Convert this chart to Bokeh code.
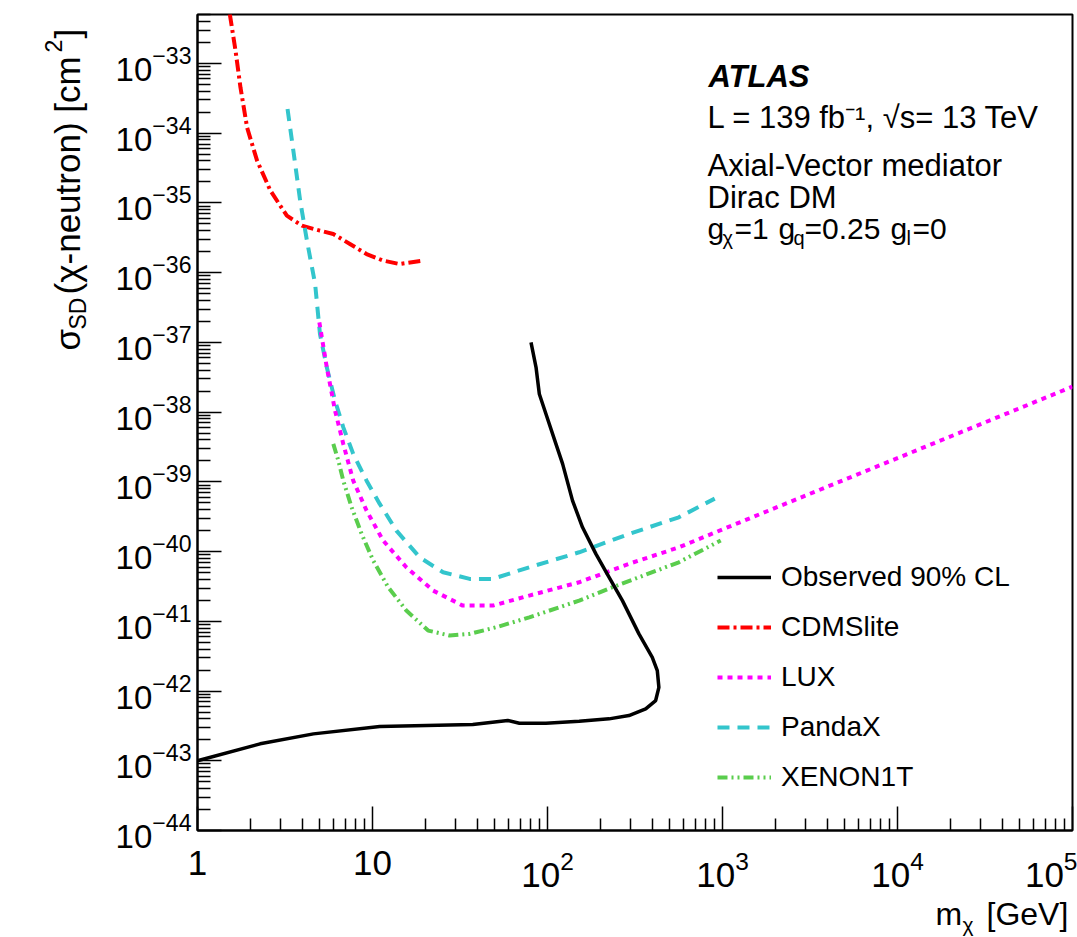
import math
from bokeh.plotting import figure
from bokeh.models import (Label, Legend, LegendItem, FixedTicker,
                          LogTickFormatter, Range1d)
from bokeh.core.properties import value
from bokeh.embed import file_html
from bokeh.resources import INLINE

FONT = "Liberation Sans"

# ---------------- data ----------------
obs_m = [1.0, 2.28, 4.6, 11.0, 37.4, 59.3, 69.1, 98, 151.7, 224.8, 292, 364,
         415, 433, 424, 397, 333, 268, 225, 189, 158.5, 139, 122, 111.7, 98,
         89.8, 86, 80.5]
obs_s = [1.0e-43, 1.75e-43, 2.43e-43, 3.1e-43, 3.31e-43, 3.78e-43, 3.45e-43,
         3.45e-43, 3.69e-43, 3.99e-43, 4.45e-43, 5.56e-43, 7.31e-43, 1.13e-42,
         1.97e-42, 3.05e-42, 6.6e-42, 1.98e-41, 4.28e-41, 9.27e-41, 2.23e-40,
         5.38e-40, 1.81e-39, 3.5e-39, 9.4e-39, 1.82e-38, 4.39e-38, 1.0e-37]

cdms_m = [1.53, 1.65, 1.76, 1.92, 2.19, 2.61, 3.24, 3.95, 5.01, 5.97, 7.43,
          9.25, 11.5, 14.3, 19.6]
cdms_s = [5.1e-33, 1.52e-33, 4.54e-34, 1.21e-34, 4.04e-35, 1.5e-35, 6.56e-36,
          4.72e-36, 4.0e-36, 3.59e-36, 2.58e-36, 1.85e-36, 1.49e-36, 1.33e-36,
          1.49e-36]

lux_m = [4.97, 5.48, 6.11, 6.81, 7.76, 9.25, 11.5, 15.6, 22.2, 32.8, 48.7,
         78.7, 151.7, 292, 563, 1000, 10000, 100000]
lux_s = [1.94e-37, 4.39e-38, 1.05e-38, 3.5e-39, 1.04e-39, 3.87e-40, 1.44e-40,
         5.96e-41, 2.76e-41, 1.68e-41, 1.68e-41, 2.34e-41, 3.63e-41, 6.67e-41,
         1.15e-40, 2.08e-40, 2.19e-39, 2.32e-38]

pandax_m = [3.27, 3.53, 3.86, 4.22, 4.70, 5.01, 5.48, 6.11, 6.81, 7.76, 9.25,
            11.0, 13.7, 18.6, 25.3, 35.9, 48.7, 78.7, 151.7, 292, 563, 903]
pandax_s = [2.22e-34, 5.6e-35, 1.08e-35, 2.88e-36, 6.89e-37, 1.32e-37,
            4.39e-38, 1.46e-38, 6.05e-39, 2.52e-39, 1.04e-39, 4.83e-40,
            2.0e-40, 8.28e-41, 5.05e-41, 4.06e-41, 4.06e-41, 5.96e-41,
            9.77e-41, 1.79e-40, 3.1e-40, 5.75e-40]

xenon_m = [5.97, 6.38, 6.81, 7.6, 8.67, 10.1, 12.3, 15.6, 20.8, 27.6, 35.9,
           50.9, 78.7, 151.7, 235, 563, 977]
xenon_s = [3.5e-39, 2.02e-39, 1.04e-39, 4.31e-40, 1.79e-40, 7.43e-41,
           3.08e-41, 1.43e-41, 7.36e-42, 6.25e-42, 6.6e-42, 8.22e-42,
           1.14e-41, 1.98e-41, 3.08e-41, 7.03e-41, 1.44e-40]

legend_labels = ["Observed 90% CL", "CDMSlite", "LUX", "PandaX", "XENON1T"]

x_major = [1, 10, 100, 1000, 10000, 100000]
y_exponents = list(range(-44, -32))

# ---------------- figure ----------------
FL, FR, FT, FB = 197, 1072, 14, 830   # frame edges in canvas px
XLO, XHI = 1.0, 1e5
YLO, YHI = 1e-44, 5.04e-33

p = figure(width=1077, height=937, x_axis_type="log", y_axis_type="log",
           x_range=Range1d(XLO, XHI), y_range=Range1d(YLO, YHI),
           output_backend="svg", toolbar_location=None,
           min_border_left=FL, min_border_right=1077 - FR,
           min_border_top=FT, min_border_bottom=937 - FB)
p.background_fill_color = "white"
p.border_fill_color = "white"
p.xgrid.visible = False
p.ygrid.visible = False
p.outline_line_color = "black"
p.outline_line_width = 2

x_minor = [m * 10 ** k for k in range(0, 5) for m in range(2, 10)]
y_minor = [m * 10.0 ** k for k in range(-44, -32) for m in range(2, 10)]
y_minor = [v for v in y_minor if v <= YHI]
p.xaxis.ticker = FixedTicker(ticks=x_major, minor_ticks=x_minor)
p.yaxis.ticker = FixedTicker(ticks=[10.0 ** e for e in y_exponents], minor_ticks=y_minor)
p.xaxis.formatter = LogTickFormatter(min_exponent=2)
p.yaxis.formatter = LogTickFormatter()

for ax in (p.xaxis[0], p.yaxis[0]):
    ax.major_tick_in = 24
    ax.major_tick_out = 0
    ax.minor_tick_in = 12
    ax.minor_tick_out = 0
    ax.axis_line_width = 2
    ax.axis_line_color = "black"
    ax.major_tick_line_width = 1.5
    ax.minor_tick_line_width = 1.5
    ax.major_tick_line_color = "black"
    ax.minor_tick_line_color = "black"
    ax.major_label_text_font = FONT
    ax.major_label_text_color = "black"
p.yaxis.major_label_text_font_size = "33px"
p.xaxis.major_label_text_font_size = "35px"
p.yaxis.major_label_standoff = 6
p.xaxis.major_label_standoff = 20
p.yaxis.minor_tick_in = 13

# ---------------- curves ----------------
r_cdms = p.line(cdms_m, cdms_s, line_color="#ff0000", line_width=4,
                line_dash="12 4 3 4")
r_pandax = p.line(pandax_m, pandax_s, line_color="#33c5cc", line_width=4,
                  line_dash="12 8")
r_lux = p.line(lux_m, lux_s, line_color="#ff00ff", line_width=4,
               line_dash="5 5")
r_xenon = p.line(xenon_m, xenon_s, line_color="#5acd4d", line_width=4,
                 line_dash="10 4 2 4 2 4")
r_obs = p.line(obs_m, obs_s, line_color="black", line_width=3.5)

legend = Legend(items=[LegendItem(label=legend_labels[0], renderers=[r_obs]),
                       LegendItem(label=legend_labels[1], renderers=[r_cdms]),
                       LegendItem(label=legend_labels[2], renderers=[r_lux]),
                       LegendItem(label=legend_labels[3], renderers=[r_pandax]),
                       LegendItem(label=legend_labels[4], renderers=[r_xenon])],
                location=(717 - FL, 37), glyph_width=54, glyph_height=30,
                label_height=30, spacing=18, padding=0, margin=0,
                label_standoff=10, border_line_alpha=0,
                background_fill_alpha=0, label_text_font=FONT,
                label_text_font_size="28px", label_text_color="black")
p.add_layout(legend)


# ---------------- texts ----------------
def lab(text, cx, cy, size, style="normal"):
    """Text inside the frame, placed in canvas pixels."""
    p.add_layout(Label(x=cx - FL, y=FB - cy, x_units="screen", y_units="screen",
                       text=text, text_font=FONT, text_font_size=f"{size}px",
                       text_font_style=style, text_align="left",
                       text_baseline="alphabetic", text_color="black"))


def px2x(cx):
    return 10 ** (math.log10(XLO) + (cx - FL) / (FR - FL) * (math.log10(XHI) - math.log10(XLO)))


def py2y(cy):
    return 10 ** (math.log10(YLO) + (FB - cy) / (FB - FT) * (math.log10(YHI) - math.log10(YLO)))


def gtext(text, cx, cy, size, angle=0.0):
    """Text outside the frame (axis titles) as an unclipped overlay glyph."""
    p.text(x=[px2x(cx)], y=[py2y(cy)], text=[text], angle=angle,
           text_font=value(FONT), text_font_size=value(f"{size}px"),
           text_align="left", text_baseline="middle",
           text_color="black", level="overlay")


# y-axis title (rotated); anchor = centre line of the text
A = math.pi / 2
gtext("σ", 67, 350, 35, A)
gtext("SD", 77, 329, 23, A)
gtext("(χ-neutron) [cm", 67, 294, 35, A)
gtext("2", 53, 52, 23, A)
gtext("]", 67, 38, 35, A)

# x-axis title
gtext("m", 935, 913, 32)
gtext("χ", 962, 924, 21)
gtext("[GeV]", 986, 913, 32)

# ATLAS block
lab("ATLAS", 708, 76, 31, style="bold italic")
lab("L = 139 fb⁻¹, √s= 13 TeV", 707, 117, 31)
lab("Axial-Vector mediator", 707, 165, 31)
lab("Dirac DM", 707, 197, 31)
lab("g", 707, 228, 30)
lab("χ", 722, 237, 20)
lab("=1", 734, 228, 30)
lab("g", 778, 228, 30)
lab("q", 793, 237, 20)
lab("=0.25", 804, 228, 30)
lab("g", 890, 228, 30)
lab("l", 906, 237, 20)
lab("=0", 912, 228, 30)

open("out.html", "w").write(file_html(p, INLINE))
